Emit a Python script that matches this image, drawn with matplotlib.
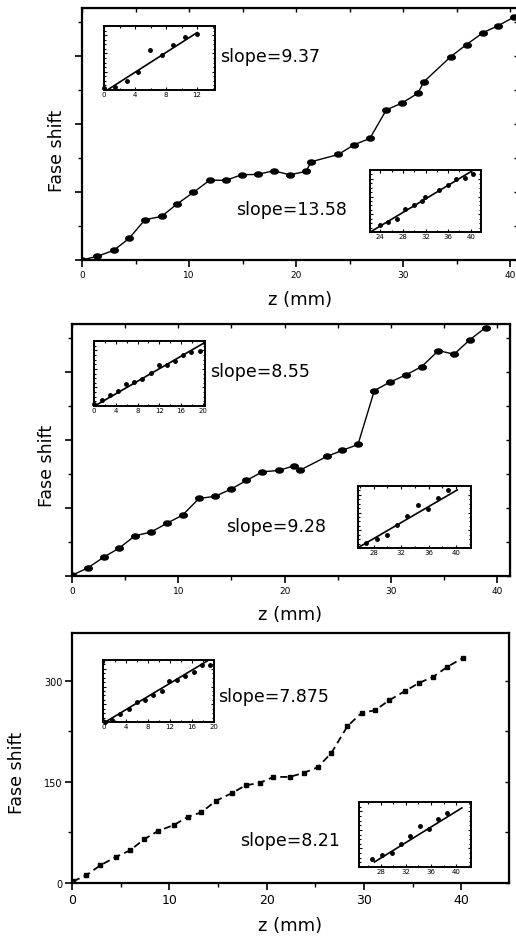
import numpy as np
import matplotlib.pyplot as plt
from matplotlib.ticker import MultipleLocator, NullFormatter

# ---- data ----
# panel 1
z1 = [0, 1.41, 2.97, 4.41, 5.88, 7.44, 8.91, 10.41, 11.94, 13.44, 14.91, 16.41, 17.91, 19.41,
      20.94, 21.41, 23.97, 25.41, 26.9, 28.44, 29.94, 31.4, 31.94, 34.47, 35.94, 37.44, 38.9, 40.4]
phase1 = [0, 5.4, 14.2, 31.9, 59.3, 64.2, 82.8, 99.5, 117.6, 117.2, 125.5, 126, 131.4, 125.5,
          130.4, 144.6, 155.4, 169.6, 178.9, 221, 231.4, 245.6, 262.3, 299.5, 317.2, 334.3, 345.1, 357.8]
in1a_y = [3.1, 6.3, 17.5, 34.4, 75.1, 65.7, 84.5, 99.5, 105.8]
in1b_y = [26.9, 41.7, 53.8, 90.2, 106.3, 122.5, 138.6, 168.3, 188.4, 211.3, 216.7, 232.9]

# panel 2
z2 = [0, 1.47, 2.97, 4.44, 5.94, 7.44, 8.91, 10.41, 11.94, 13.44, 14.91, 16.41, 17.91, 19.44,
      20.9, 21.4, 23.97, 25.4, 26.9, 28.44, 29.9, 31.4, 32.9, 34.47, 35.94, 37.4, 38.9]
phase2 = [1, 11.8, 27.5, 41.2, 59.3, 64.7, 77.5, 89.7, 114.2, 117.2, 127.5, 140.7, 153.4, 155.4,
          162.3, 155.4, 176, 184.8, 193.6, 273, 285.3, 296, 308.3, 331.9, 326.5, 347.5, 365.7]
in2a_y = [6.4, 15.5, 29.1, 40.9, 59.1, 64.5, 73.6, 89.1, 110.9, 112.7, 121.8, 140, 148.2, 149.1]
in2b_y = [11.7, 21.8, 29.6, 53, 74.1, 99.8, 89.7, 115.4, 134.2]

# panel 3
z3 = [0.1, 1.47, 2.9, 4.5, 5.97, 7.4, 8.84, 10.48, 11.88, 13.3, 14.77, 16.4, 17.85, 19.28,
      20.7, 22.35, 23.8, 25.26, 26.65, 28.3, 29.76, 31.16, 32.6, 34.2, 35.67, 37.1, 38.57, 40.17]
phase3 = [2.5, 11.4, 26.2, 38.6, 48.5, 64.8, 77.2, 86.1, 98, 104.9, 121.8, 133.2, 145, 148.5,
          157.4, 157.4, 163.4, 171.8, 193, 232.7, 252.5, 256.4, 271.3, 284.6, 297, 305.9, 320.8, 334.1]
in3a_y = [0.5, 4.8, 20.1, 32.2, 49, 52.3, 65.1, 74.8, 97.3, 101.3, 109.3, 120.6, 137, 136.7]
in3b_y = [16.1, 24.5, 29.4, 48.9, 64.3, 86, 79, 100, 113.9]

# linear fits shown in the insets: slope, x where line crosses 0, drawn x range
slopes = ["9.37", "13.58", "8.55", "9.28", "7.875", "8.21"]
fit_x0 = [0.43, 22.26, 0.12, 25.63, 0.22, 25.77]
fit_range = [(0.43, 12.0), (22.46, 40.5), (0.12, 20.3), (25.8, 40.2), (0.42, 18.8), (27.05, 40.85)]

W, H = 516, 937


def box(l, t, r, b):
    # pixel box -> figure fraction
    return [l / W, 1 - b / H, (r - l) / W, (b - t) / H]


theta = np.linspace(0, 2 * np.pi, 40)
ellipse = list(zip(1.5 * np.cos(theta), np.sin(theta)))

fig = plt.figure(figsize=(W / 100, H / 100), dpi=100)


def main_panel(rect, z, ph, xmax, style, ylabels=False, xfont=6.5, top_ticks=True):
    ax = fig.add_axes(rect)
    if style == 'solid':
        ax.plot(z, ph, '-', color='black', lw=1.0, marker=ellipse, ms=5.5)
    else:
        ax.plot(z, ph, color='black', lw=1.3, ls=(0, (4, 2.5)), marker='s', ms=3.5)
    ax.set_xlim(0, xmax)
    ax.set_ylim(0, 371)
    for s in ax.spines.values():
        s.set_linewidth(1.6)
    ax.xaxis.set_major_locator(MultipleLocator(10))
    ax.xaxis.set_minor_locator(MultipleLocator(5))
    if ylabels:
        ax.yaxis.set_major_locator(MultipleLocator(150))
        ax.yaxis.set_minor_locator(MultipleLocator(75))
    else:
        ax.yaxis.set_major_locator(MultipleLocator(100))
        ax.yaxis.set_minor_locator(MultipleLocator(50))
        ax.yaxis.set_major_formatter(NullFormatter())
    ax.tick_params(which='major', direction='out', length=5, width=1.2, labelsize=xfont, pad=2)
    ax.tick_params(which='minor', direction='out', length=3, width=1.0)
    ax.tick_params(axis='y', labelsize=7)
    # inward ticks on the top/right side
    if top_ticks:
        sx = ax.secondary_xaxis('top')
        sx.xaxis.set_major_locator(MultipleLocator(5))
        sx.tick_params(direction='in', length=3, width=1.0, labeltop=False)
    sy = ax.secondary_yaxis('right')
    sy.yaxis.set_major_locator(MultipleLocator(75 if ylabels else 50))
    sy.tick_params(direction='in', length=3, width=1.0, labelright=False)
    return ax


def inset(rect, x, y, k, xlim, ylim, xstep):
    ax = fig.add_axes(rect)
    ax.plot(x, y, 'o', color='black', ms=2.5, clip_on=False)
    x0 = fit_x0[k]
    fx = np.array(fit_range[k])
    ax.plot(fx, float(slopes[k]) * (fx - x0), '-', color='black', lw=1.2)
    ax.set_xlim(*xlim)
    ax.set_ylim(*ylim)
    for s in ax.spines.values():
        s.set_linewidth(1.4)
    ax.xaxis.set_major_locator(MultipleLocator(xstep))
    ax.xaxis.set_minor_locator(MultipleLocator(xstep / 2))
    ax.yaxis.set_major_locator(MultipleLocator((ylim[1] - ylim[0]) / 3.5))
    ax.yaxis.set_minor_locator(MultipleLocator((ylim[1] - ylim[0]) / 14))
    ax.yaxis.set_major_formatter(NullFormatter())
    ax.tick_params(which='both', direction='in', top=True, right=True, width=0.8)
    ax.tick_params(which='major', length=2.5, labelsize=5, pad=1)
    ax.tick_params(which='minor', length=1.2)
    return ax


# ---- panel 1 ----
main_panel(box(82, 9, 517.5, 261), z1, phase1, 40.7, 'solid')
inset(box(104, 27, 215, 91), z1[:9], in1a_y, 0, (0, 14.3), (0, 120.8), 4)
inset(box(370, 171, 481, 233), z1[16:], in1b_y, 1, (22.2, 41.8), (0, 247.7), 4)
fig.text(220 / W, 1 - 57 / H, "slope=" + slopes[0], fontsize=12.5, va='center')
fig.text(236 / W, 1 - 210 / H, "slope=" + slopes[1], fontsize=12.5, va='center')
fig.text(57 / W, 1 - 151 / H, "Fase shift", fontsize=12.5, rotation=90, ha='center', va='center')
fig.text(300 / W, 1 - 300 / H, "z (mm)", fontsize=13, ha='center', va='center')

# ---- panel 2 ----
main_panel(box(72, 325, 510, 577), z2, phase2, 41.2, 'solid')
inset(box(94, 342, 205, 407), z2[:14], in2a_y, 2, (0, 20.4), (0, 177.2), 4)
inset(box(358, 487, 471, 549), z2[18:], in2b_y, 3, (25.7, 42.2), (0, 144.3), 4)
fig.text(210 / W, 1 - 372 / H, "slope=" + slopes[2], fontsize=12.5, va='center')
fig.text(226 / W, 1 - 527 / H, "slope=" + slopes[3], fontsize=12.5, va='center')
fig.text(47 / W, 1 - 466 / H, "Fase shift", fontsize=12.5, rotation=90, ha='center', va='center')
fig.text(290 / W, 1 - 615 / H, "z (mm)", fontsize=13, ha='center', va='center')

# ---- panel 3 ----
main_panel(box(72, 634, 509, 884), z3, phase3, 44.9, 'dashed', ylabels=True, xfont=9, top_ticks=False)
inset(box(103, 661, 214, 723), z3[:14], in3a_y, 4, (-0.2, 20.05), (0, 148.8), 4)
inset(box(359, 803, 471, 868), z3[18:27], in3b_y, 5, (24.6, 42.3), (0, 136.3), 4)
fig.text(218 / W, 1 - 697 / H, "slope=" + slopes[4], fontsize=12.5, va='center')
fig.text(240 / W, 1 - 841 / H, "slope=" + slopes[5], fontsize=12.5, va='center')
fig.text(17 / W, 1 - 773 / H, "Fase shift", fontsize=12.5, rotation=90, ha='center', va='center')
fig.text(290 / W, 1 - 926 / H, "z (mm)", fontsize=13, ha='center', va='center')

fig.savefig("out.png", dpi=100)
